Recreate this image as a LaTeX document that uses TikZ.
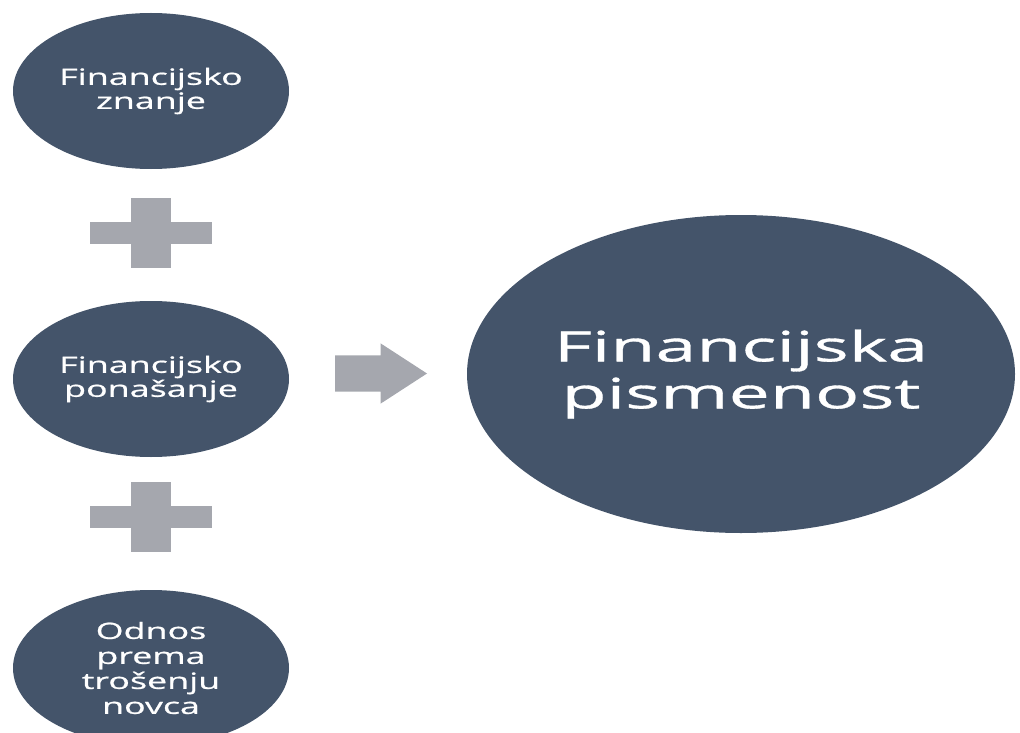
\documentclass[tikz,border=0pt]{standalone}
\usepackage{fontspec}
\newfontfamily\widefont{Open Sans}[FakeStretch=1.6, FakeBold=0.8]
\newfontfamily\widerfont{Open Sans}[FakeStretch=1.75, FakeBold=0.8]
\usepackage{tikz}
\usetikzlibrary{shapes.geometric}
\usetikzlibrary{shapes.arrows}
\usetikzlibrary{calc}
\definecolor{slate}{HTML}{44546A}
\definecolor{plusgray}{HTML}{A5A7AE}
\tikzset{
    blob/.style={ellipse, fill=slate, text=white, inner sep=0pt, align=center,
        minimum width=276, minimum height=156,
        font=\widefont\fontsize{22.4}{24}\selectfont},
    hbar/.style={rectangle, fill=plusgray, inner sep=0pt,
        minimum width=122, minimum height=22},
    vbar/.style={rectangle, fill=plusgray, inner sep=0pt,
        minimum width=40, minimum height=70}
}

\begin{document}
\begin{tikzpicture}[x=1pt, y=-1pt]
		\useasboundingbox (0,0) rectangle (1020,733);

		\node[blob] (fz) at (151,91) {Financijsko\\znanje};
		\node[blob] (fb) at (151,379) {Financijsko\\ponašanje};
		\node[blob, font=\widefont\fontsize{22.4}{25}\selectfont] (ot) at (151,668)
		    {Odnos\\prema\\trošenju\\novca};

		% plus signs
		\node[hbar] (plus1h) at (151,233) {};
		\node[vbar] (plus1v) at (151,233) {};
		\node[hbar] (plus2h) at (151,517) {};
		\node[vbar] (plus2v) at (151,517) {};

		\node[blob, minimum width=548, minimum height=318,
		    font=\widerfont\fontsize{42}{47}\selectfont] (fp) at (741,374)
		    {Financijska\\pismenost};

		% arrow
		\node[single arrow, fill=plusgray, inner xsep=0pt, inner ysep=18pt,
		    minimum height=92, single arrow head extend=12,
		    single arrow tip angle=66, xshift=-11pt, yshift=3pt]
		    (ar) at ($(fb.east)!0.5!(fp.west)$) {};
    \end{tikzpicture}
\end{document}
